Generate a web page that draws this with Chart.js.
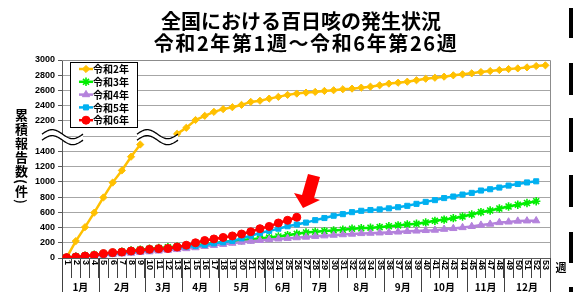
<!DOCTYPE html>
<html lang="ja">
<head>
<meta charset="utf-8">
<script src="https://cdn.jsdelivr.net/npm/chart.js@4.4.1/dist/chart.umd.min.js"></script>
<style>
    html, body { margin: 0; padding: 0; background: #fff; }
    #wrap { position: relative; width: 573px; height: 292px; overflow: hidden; }
    #yTitle {
        position: absolute; left: 13px; top: 109px;
        writing-mode: vertical-rl;
        font: bold 13px "Noto Sans CJK JP", sans-serif;
        letter-spacing: 1px; line-height: 16px; color: #000;
    }
</style>
</head>
<body>
<div id="wrap">
    <canvas id="chart" width="573" height="292"></canvas>
    <div id="yTitle">累積報告数(件)</div>
</div>
<script>
/* ---------- DATA ---------- */
const weeks = ['1','2','3','4','5','6','7','8','9','10','11','12','13','14','15','16','17','18','19','20',
    '21','22','23','24','25','26','27','28','29','30','31','32','33','34','35','36','37','38','39','40',
    '41','42','43','44','45','46','47','48','49','50','51','52','53'];
const months     = ['1月','2月','3月','4月','5月','6月','7月','8月','9月','10月','11月','12月'];
const monthWeeks = [4, 5, 4, 4, 5, 4, 4, 5, 4, 5, 4, 5];

const seriesNames = ['令和2年', '令和3年', '令和4年', '令和5年', '令和6年'];

const r2 = [5, 222, 405, 595, 795, 990, 1150, 1330, 1490, 1650, 1790, 1920, 2030, 2110, 2212, 2267, 2319, 2355,
    2380, 2411, 2450, 2465, 2493, 2516, 2542, 2559, 2572, 2581, 2594, 2603, 2616, 2624, 2637, 2650, 2668, 2690,
    2702, 2715, 2734, 2754, 2767, 2781, 2799, 2812, 2825, 2842, 2855, 2868, 2881, 2890, 2903, 2921, 2930];
const r3 = [8, 20, 30, 42, 55, 68, 82, 98, 110, 122, 132, 142, 150, 158, 168, 180, 195, 210, 222, 232, 245, 255,
    268, 282, 300, 318, 335, 345, 353, 362, 371, 385, 390, 398, 405, 418, 428, 441, 450, 467, 488, 504, 523, 545,
    571, 602, 624, 650, 676, 700, 722, 746];
const r4 = [5, 14, 22, 30, 38, 46, 55, 64, 73, 82, 92, 102, 112, 124, 136, 153, 166, 180, 195, 209, 220, 231, 242,
    251, 258, 267, 275, 285, 292, 300, 307, 314, 322, 326, 330, 336, 342, 350, 355, 362, 366, 378, 388, 400, 415,
    432, 445, 466, 474, 485, 488, 490];
const r5 = [5, 14, 24, 33, 45, 56, 66, 78, 90, 101, 112, 120, 133, 148, 158, 172, 192, 206, 225, 258, 292, 328,
    356, 385, 417, 440, 465, 497, 525, 555, 576, 602, 620, 630, 638, 652, 667, 685, 711, 737, 760, 787, 807, 833,
    855, 886, 903, 925, 951, 972, 992, 1007];
const r6 = [5, 13, 26, 35, 57, 70, 78, 92, 100, 114, 123, 125, 144, 168, 200, 230, 250, 270, 290, 315, 345, 385,
    415, 460, 495, 535];

/* ---------- BROKEN AXIS (1500-2000 squeezed, 2200-3000 shifted down) ---------- */
function toAxis(v) {
    if (v <= 1500) return v;
    if (v < 2000) return 1500 + (v - 1500) / 5;
    return v - 400;
}
function axisLabel(t) {
    if (t <= 1400) return String(t);
    if (t >= 1800) return String(t + 400);
    return '';
}
// points that sit behind the break mark
const inBreak = v => v > 1500 && v < 2000;

const COLORS = ['#FFC000', '#00EE00', '#B482DC', '#00B0F0', '#FF0000'];
const STYLES = [
    { pointStyle: 'rectRot',  radius: 3.6 },
    { pointStyle: 'star',     radius: 4.2 },
    { pointStyle: 'triangle', radius: 4.2 },
    { pointStyle: 'rect',     radius: 3.6 },
    { pointStyle: 'circle',   radius: 4.0 },
];

function makeSet(i, values) {
    return {
        label: seriesNames[i],
        data: values.map(toAxis),
        borderColor: COLORS[i],
        backgroundColor: COLORS[i],
        borderWidth: 2.5,
        pointStyle: STYLES[i].pointStyle,
        pointRadius: values.map(v => inBreak(v) ? 0 : STYLES[i].radius),
        pointBorderWidth: STYLES[i].pointStyle === 'star' ? 1.6 : 1,
        segment: {
            borderColor: c => (inBreak(values[c.p0DataIndex]) || inBreak(values[c.p1DataIndex])) ? 'rgba(0,0,0,0)' : undefined
        },
        tension: 0,
        order: 5 - i,
    };
}

/* ---------- DECORATION PLUGIN ---------- */
function squiggle(ctx, x0, yc) {
    const w = 41, amp = 4.5, gap = 6;
    const wy = k => -amp * Math.sin(k / w * Math.PI * 2);
    ctx.save();
    ctx.beginPath();
    for (let k = 0; k <= w; k++) ctx.lineTo(x0 + k, yc - gap / 2 + wy(k));
    for (let k = w; k >= 0; k--) ctx.lineTo(x0 + k, yc + gap / 2 + wy(k));
    ctx.closePath();
    ctx.fillStyle = '#fff';
    ctx.fill();
    ctx.strokeStyle = '#000';
    ctx.lineWidth = 1.3;
    [-gap / 2, gap / 2].forEach(dy => {
        ctx.beginPath();
        for (let k = 0; k <= w; k++) ctx.lineTo(x0 + k, yc + dy + wy(k));
        ctx.stroke();
    });
    ctx.restore();
}

const decor = {
    id: 'decor',
    beforeDraw(chart) {
        const ctx = chart.ctx;
        ctx.save();
        ctx.fillStyle = '#fff';
        ctx.fillRect(0, 0, chart.width, chart.height);
        ctx.restore();
    },
    afterDatasetsDraw(chart) {
        const ctx = chart.ctx;
        const y = chart.scales.y;
        const yc = y.getPixelForValue(1600) + 1;
        squiggle(ctx, 42, yc);
        squiggle(ctx, 137, yc);

        // red arrow
        ctx.save();
        ctx.fillStyle = '#FF0000';
        ctx.beginPath();
        ctx.moveTo(308, 174); ctx.lineTo(320, 177); ctx.lineTo(314, 198); ctx.lineTo(320, 200);
        ctx.lineTo(303, 208); ctx.lineTo(294, 193); ctx.lineTo(302, 195);
        ctx.closePath();
        ctx.fill();
        ctx.restore();
    },
    afterDraw(chart) {
        const ctx = chart.ctx;
        const a = chart.chartArea;
        const x = chart.scales.x;
        const band = (a.right - a.left) / weeks.length;
        ctx.save();

        // plot frame (top / right)
        ctx.strokeStyle = '#8c8c8c';
        ctx.lineWidth = 1;
        ctx.beginPath();
        ctx.moveTo(a.left, a.top + 0.5); ctx.lineTo(a.right + 0.5, a.top + 0.5); ctx.lineTo(a.right + 0.5, a.bottom);
        ctx.stroke();

        // week labels, rotated
        ctx.fillStyle = '#000';
        ctx.font = 'bold 9px "Liberation Sans", Arial, sans-serif';
        ctx.textAlign = 'left';
        ctx.textBaseline = 'middle';
        weeks.forEach((w, i) => {
            ctx.save();
            ctx.translate(x.getPixelForValue(i) + 0.5, a.bottom + 2);
            ctx.rotate(Math.PI / 2);
            ctx.fillText(w, 0, 0);
            ctx.restore();
        });

        // month row
        ctx.strokeStyle = '#404040';
        ctx.font = 'bold 10px "Noto Sans CJK JP", sans-serif';
        ctx.textAlign = 'center';
        let start = 0;
        months.forEach((m, i) => {
            const x0 = a.left + start * band;
            const x1 = x0 + monthWeeks[i] * band;
            ctx.beginPath();
            ctx.moveTo(Math.round(x0) + 0.5, a.bottom); ctx.lineTo(Math.round(x0) + 0.5, chart.height);
            ctx.stroke();
            ctx.fillText(m, (x0 + x1) / 2, 287);
            start += monthWeeks[i];
        });
        ctx.beginPath();
        ctx.moveTo(a.right + 0.5, a.bottom); ctx.lineTo(a.right + 0.5, chart.height);
        ctx.stroke();

        // "週"
        ctx.font = 'bold 11px "Noto Sans CJK JP", sans-serif';
        ctx.fillText('週', 561, 268);

        // title
        ctx.font = 'bold 20px "Noto Sans CJK JP", sans-serif';
        ctx.fillText('全国における百日咳の発生状況', 301, 21);
        ctx.letterSpacing = '1.6px';
        ctx.fillText('令和2年第1週～令和6年第26週', 306, 43);
        ctx.letterSpacing = '0px';

        // legend box
        const lx = 70, ly = 62, lw = 67, lh = 65;
        ctx.fillStyle = '#fff';
        ctx.fillRect(lx, ly, lw, lh);
        ctx.strokeStyle = '#000';
        ctx.lineWidth = 1;
        ctx.strokeRect(lx + 0.5, ly + 0.5, lw, lh);
        chart.data.datasets.forEach((ds, i) => {
            const ry = ly + 7 + i * 12.8;
            ctx.strokeStyle = ds.borderColor;
            ctx.fillStyle = ds.backgroundColor;
            ctx.lineWidth = 2.5;
            ctx.beginPath();
            ctx.moveTo(79, ry); ctx.lineTo(93, ry);
            ctx.stroke();
            ctx.lineWidth = ds.pointBorderWidth;
            Chart.helpers.drawPoint(ctx, { pointStyle: ds.pointStyle, radius: STYLES[i].radius, borderWidth: ds.pointBorderWidth }, 86, ry);
            ctx.fillStyle = '#000';
            ctx.font = 'bold 10px "Noto Sans CJK JP", sans-serif';
            ctx.textAlign = 'left';
            ctx.fillText(ds.label, 93, ry + 0.5);
        });

        // slide edge bars on the right
        ctx.fillStyle = '#000';
        [[8, 30], [63, 32], [118, 34], [175, 32], [232, 31], [287, 6]].forEach(b => ctx.fillRect(569, b[0], 4, b[1]));
        ctx.restore();
    }
};

/* ---------- CHART ---------- */
new Chart(document.getElementById('chart'), {
    type: 'line',
    data: {
        labels: weeks,
        datasets: [makeSet(0, r2), makeSet(1, r3), makeSet(2, r4), makeSet(3, r5), makeSet(4, r6)]
    },
    options: {
        responsive: false,
        animation: false,
        devicePixelRatio: 1,
        layout: { padding: { top: 60, right: 23, left: 0, bottom: 0 } },
        plugins: { legend: { display: false }, title: { display: false }, tooltip: { enabled: false } },
        scales: {
            x: {
                type: 'category',
                offset: true,
                grid: { offset: true, drawOnChartArea: false, drawTicks: true, tickLength: 20, color: '#404040' },
                border: { color: '#595959', width: 1 },
                ticks: { display: false },
                afterFit: s => { s.height = 34; }
            },
            y: {
                min: 0,
                max: 2600,
                grid: { color: '#a6a6a6', tickLength: 4, tickColor: '#595959' },
                border: { color: '#595959', width: 1 },
                ticks: {
                    stepSize: 200,
                    padding: 3,
                    color: '#000',
                    font: { family: '"Liberation Sans", Arial, sans-serif', size: 9, weight: 'bold' },
                    callback: v => axisLabel(v)
                },
                afterFit: s => { s.width = 62; }
            }
        }
    },
    plugins: [decor]
});
</script>
</body>
</html>
